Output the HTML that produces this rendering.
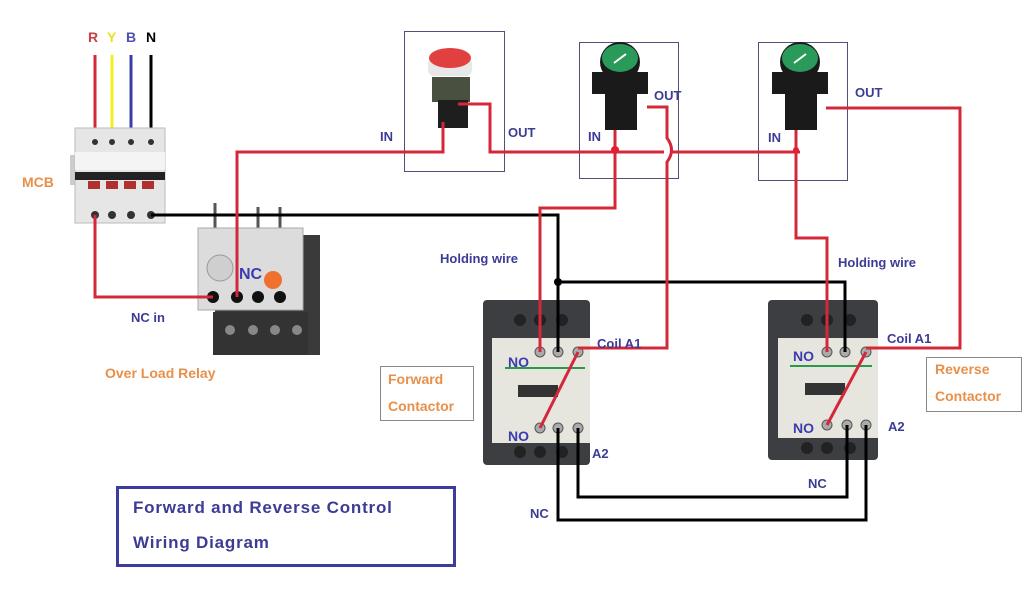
<!DOCTYPE html>
<html><head><meta charset="utf-8"><style>
html,body{margin:0;padding:0;background:#fff;}
svg{display:block;font-family:"Liberation Sans",sans-serif;}
.b{fill:#3c3c96;font-size:13px;font-weight:bold;}
.o{fill:#e8904a;font-size:14px;font-weight:bold;}
</style></head><body>
<svg width="1024" height="600" viewBox="0 0 1024 600" xmlns="http://www.w3.org/2000/svg">
<line x1="95" y1="55" x2="95" y2="145" stroke="#d4283a" stroke-width="3"/>
<line x1="112" y1="55" x2="112" y2="145" stroke="#f0f020" stroke-width="3"/>
<line x1="131" y1="55" x2="131" y2="145" stroke="#3c3ca8" stroke-width="3"/>
<line x1="151" y1="55" x2="151" y2="145" stroke="#000" stroke-width="3"/>
<text x="88" y="42" font-weight="bold" font-size="14" fill="#c84040">R</text>
<text x="107" y="42" font-weight="bold" font-size="14" fill="#e8e020">Y</text>
<text x="126" y="42" font-weight="bold" font-size="14" fill="#5050b0">B</text>
<text x="146" y="42" font-weight="bold" font-size="14" fill="#000">N</text>
<rect x="70" y="155" width="8" height="30" fill="#ccc"/>
<rect x="75" y="128" width="90" height="95" fill="#e6e6e6" stroke="#bbb"/>
<rect x="75" y="152" width="90" height="18" fill="#f4f4f4"/>
<rect x="75" y="172" width="90" height="8" fill="#222"/>
<g fill="#b03030"><rect x="88" y="181" width="12" height="8"/><rect x="106" y="181" width="12" height="8"/><rect x="124" y="181" width="12" height="8"/><rect x="142" y="181" width="12" height="8"/></g>
<g fill="#333"><circle cx="95" cy="142" r="3"/><circle cx="112" cy="142" r="3"/><circle cx="131" cy="142" r="3"/><circle cx="151" cy="142" r="3"/>
<circle cx="95" cy="215" r="4"/><circle cx="112" cy="215" r="4"/><circle cx="131" cy="215" r="4"/><circle cx="151" cy="215" r="4"/></g>
<text x="22" y="187" class="o" font-size="13">MCB</text>
<g stroke="#555" stroke-width="3"><line x1="215" y1="203" x2="215" y2="235"/><line x1="258" y1="207" x2="258" y2="235"/><line x1="280" y1="207" x2="280" y2="235"/></g>
<rect x="215" y="235" width="105" height="120" fill="#3a3a3a"/>
<rect x="198" y="228" width="105" height="82" fill="#dcdcdc" stroke="#aaa"/>
<circle cx="220" cy="268" r="13" fill="#cfcfcf" stroke="#999"/>
<circle cx="273" cy="280" r="9" fill="#f07030"/>
<rect x="213" y="312" width="95" height="43" fill="#333"/>
<g fill="#111"><circle cx="213" cy="297" r="6"/><circle cx="237" cy="297" r="6"/><circle cx="258" cy="297" r="6"/><circle cx="280" cy="297" r="6"/></g>
<g fill="#888"><circle cx="230" cy="330" r="5"/><circle cx="253" cy="330" r="5"/><circle cx="275" cy="330" r="5"/><circle cx="297" cy="330" r="5"/></g>
<text x="239" y="279" fill="#3c3cb0" font-size="16" font-weight="bold">NC</text>
<text x="131" y="322" class="b">NC in</text>
<text x="105" y="378" class="o">Over Load Relay</text>
<rect x="404.5" y="31.5" width="100" height="140" fill="none" stroke="#50507a"/>
<rect x="579.5" y="42.5" width="99" height="136" fill="none" stroke="#50507a"/>
<rect x="758.5" y="42.5" width="89" height="138" fill="none" stroke="#50507a"/>
<rect x="432" y="77" width="38" height="25" fill="#4a5040"/>
<rect x="438" y="100" width="30" height="28" fill="#1e1e1e"/>
<rect x="428" y="58" width="44" height="18" rx="6" fill="#e8e8e8"/>
<ellipse cx="450" cy="58" rx="21" ry="10" fill="#e04040"/>
<g>
<rect x="592" y="72" width="56" height="22" fill="#1a1a1a"/>
<rect x="605" y="90" width="32" height="40" fill="#1a1a1a"/>
<circle cx="620" cy="62" r="20" fill="#1a1a1a"/><ellipse cx="620" cy="58" rx="18" ry="14" fill="#2a9a5a"/>
<line x1="614" y1="63" x2="626" y2="54" stroke="#fff" stroke-width="2"/>
</g>
<g>
<rect x="772" y="72" width="56" height="22" fill="#1a1a1a"/>
<rect x="785" y="90" width="32" height="40" fill="#1a1a1a"/>
<circle cx="800" cy="62" r="20" fill="#1a1a1a"/><ellipse cx="800" cy="58" rx="18" ry="14" fill="#2a9a5a"/>
<line x1="794" y1="63" x2="806" y2="54" stroke="#fff" stroke-width="2"/>
</g>
<text x="380" y="141" class="b">IN</text>
<text x="508" y="137" class="b">OUT</text>
<text x="588" y="141" class="b">IN</text>
<text x="654" y="100" class="b">OUT</text>
<text x="768" y="142" class="b">IN</text>
<text x="855" y="97" class="b">OUT</text>
<g>
<rect x="483" y="300" width="107" height="165" rx="4" fill="#3c3e42"/>
<rect x="492" y="338" width="98" height="105" fill="#e6e6de"/>
<rect x="518" y="385" width="40" height="12" fill="#333"/>
<line x1="505" y1="368" x2="585" y2="368" stroke="#2a9a4a" stroke-width="2"/>
<g fill="#222"><circle cx="520" cy="320" r="6"/><circle cx="540" cy="320" r="6"/><circle cx="562" cy="320" r="6"/>
<circle cx="520" cy="452" r="6"/><circle cx="540" cy="452" r="6"/><circle cx="562" cy="452" r="6"/></g>
<g fill="#aaa" stroke="#555"><circle cx="540" cy="352" r="5"/><circle cx="558" cy="352" r="5"/><circle cx="578" cy="352" r="5"/>
<circle cx="540" cy="428" r="5"/><circle cx="558" cy="428" r="5"/><circle cx="578" cy="428" r="5"/></g>
</g>
<g>
<rect x="768" y="300" width="110" height="160" rx="4" fill="#3c3e42"/>
<rect x="778" y="338" width="100" height="100" fill="#e6e6de"/>
<rect x="805" y="383" width="40" height="12" fill="#333"/>
<line x1="790" y1="366" x2="872" y2="366" stroke="#2a9a4a" stroke-width="2"/>
<g fill="#222"><circle cx="807" cy="320" r="6"/><circle cx="827" cy="320" r="6"/><circle cx="850" cy="320" r="6"/>
<circle cx="807" cy="448" r="6"/><circle cx="827" cy="448" r="6"/><circle cx="850" cy="448" r="6"/></g>
<g fill="#aaa" stroke="#555"><circle cx="827" cy="352" r="5"/><circle cx="845" cy="352" r="5"/><circle cx="866" cy="352" r="5"/>
<circle cx="827" cy="425" r="5"/><circle cx="847" cy="425" r="5"/><circle cx="866" cy="425" r="5"/></g>
</g>
<g fill="none" stroke="#000" stroke-width="3">
<polyline points="151,215 558,215 558,352"/>
<polyline points="558,282 845,282 845,352"/>
<polyline points="558,428 558,520 866,520 866,425"/>
<polyline points="578,428 578,497 847,497 847,425"/>
</g>
<circle cx="558" cy="282" r="4"/>
<g fill="none" stroke="#d4283a" stroke-width="3">
<polyline points="95,215 95,297 213,297"/>
<polyline points="237,297 237,152 443,152 443,122"/>
<polyline points="458,104 490,104 490,152 664,152"/>
<path d="M672,152 L800,152"/>
<polyline points="615,130 615,208 540,208 540,352"/>
<path d="M647,107 L667,107 L667,138 Q676,150 667,162 L667,348 L578,348"/>
<line x1="578" y1="352" x2="540" y2="428"/>
<polyline points="796,130 796,238 827,238 827,352"/>
<polyline points="826,108 960,108 960,348 866,348"/>
<line x1="866" y1="352" x2="827" y2="425"/>
</g>
<circle cx="615" cy="150" r="4" fill="#e02030"/>
<circle cx="796" cy="150" r="3" fill="#e02030"/>
<text x="440" y="263" class="b">Holding wire</text>
<text x="838" y="267" class="b">Holding wire</text>
<text x="597" y="348" class="b">Coil A1</text>
<text x="887" y="343" class="b">Coil A1</text>
<text x="508" y="367" fill="#3c3cb0" font-weight="bold" font-size="14">NO</text>
<text x="508" y="441" fill="#3c3cb0" font-weight="bold" font-size="14">NO</text>
<text x="793" y="361" fill="#3c3cb0" font-weight="bold" font-size="14">NO</text>
<text x="793" y="433" fill="#3c3cb0" font-weight="bold" font-size="14">NO</text>
<text x="592" y="458" class="b">A2</text>
<text x="888" y="431" class="b">A2</text>
<text x="808" y="488" class="b">NC</text>
<text x="530" y="518" class="b">NC</text>
<rect x="380.5" y="366.5" width="93" height="54" fill="#fff" stroke="#888"/>
<text x="388" y="384" class="o">Forward</text>
<text x="388" y="411" class="o">Contactor</text>
<rect x="926.5" y="357.5" width="95" height="54" fill="#fff" stroke="#888"/>
<text x="935" y="374" class="o">Reverse</text>
<text x="935" y="401" class="o">Contactor</text>
<rect x="117.5" y="487.5" width="337" height="78" fill="#fff" stroke="#3c3c9c" stroke-width="3"/>
<text x="133" y="513" fill="#3c3c96" font-size="17" font-weight="bold" letter-spacing="0.8">Forward and Reverse Control</text>
<text x="133" y="548" fill="#3c3c96" font-size="17" font-weight="bold" letter-spacing="0.8">Wiring Diagram</text>
</svg>
</body></html>
